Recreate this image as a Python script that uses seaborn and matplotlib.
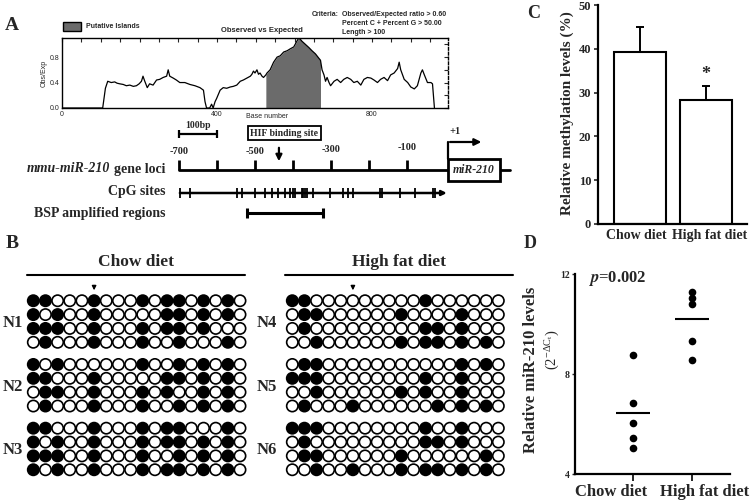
import numpy as np
import pandas as pd
import matplotlib
matplotlib.use("Agg")
import matplotlib.pyplot as plt
import matplotlib.transforms as mtrans
from matplotlib.patches import Rectangle
from matplotlib.lines import Line2D
import seaborn as sns

# ---------------- data ----------------
# A: CpG island plot (observed / expected ratio along the promoter)
base_pos = [0, 105, 112, 118, 127, 136, 142, 149, 158, 166,
            175, 184, 192, 199, 205, 209, 213, 220, 226, 235,
            244, 252, 261, 270, 274, 278, 287, 295, 304, 317,
            330, 343, 356, 365, 369, 373, 381, 386, 390, 395,
            399, 408, 416, 425, 434, 442, 451, 460, 468, 477,
            486, 490, 494, 498, 503, 507, 511, 516, 520, 526,
            529, 537, 546, 555, 563, 572, 581, 589, 598, 606,
            611, 615, 619, 628, 637, 645, 654, 663, 667, 671,
            676, 680, 684, 689, 693, 702, 710, 719, 727, 736,
            745, 753, 762, 771, 779, 788, 797, 805, 814, 822,
            831, 840, 848, 857, 866, 870, 874, 883, 892, 900,
            909, 917, 926, 930, 935, 943, 952, 956, 961]
obs_exp = [0.0, 0.0, 0.31, 0.42, 0.40, 0.41, 0.39, 0.38, 0.37, 0.35,
           0.36, 0.34, 0.35, 0.38, 0.42, 0.50, 0.43, 0.32, 0.38, 0.36,
           0.44, 0.45, 0.48, 0.50, 0.60, 0.50, 0.47, 0.44, 0.40, 0.40,
           0.37, 0.35, 0.32, 0.28, 0.10, 0.0, 0.0, 0.06, 0.0, 0.10,
           0.15, 0.28, 0.32, 0.31, 0.33, 0.34, 0.36, 0.42, 0.44, 0.47,
           0.50, 0.53, 0.58, 0.55, 0.60, 0.53, 0.55, 0.50, 0.48, 0.52,
           0.55, 0.60, 0.72, 0.80, 0.82, 0.88, 0.90, 0.93, 0.96, 1.05,
           1.10, 1.08, 1.05, 1.00, 0.95, 0.90, 0.85, 0.78, 0.75, 0.60,
           0.52, 0.42, 0.48, 0.40, 0.35, 0.42, 0.45, 0.40, 0.45, 0.48,
           0.45, 0.40, 0.42, 0.36, 0.45, 0.48, 0.47, 0.44, 0.40, 0.45,
           0.48, 0.43, 0.52, 0.55, 0.62, 0.72, 0.60, 0.45, 0.40, 0.33,
           0.30, 0.35, 0.55, 0.60, 0.52, 0.40, 0.40, 0.38, 0.0]
island_start, island_end = 526, 667
criteria = ["Observed/Expected ratio > 0.60",
            "Percent C + Percent G > 50.00",
            "Length > 100"]

# A: gene loci map (bp relative to miR-210 start)
loci_ticks = [-700, -600, -500, -400, -300, -200, -100]
loci_labels = [-700, -500, -300, -100]
cpg_sites = [-697, -671, -547, -535, -500, -474, -456, -439, -421, -408,
             -401, -395, -377, -373, -368, -364, -347, -303, -268, -254,
             -241, -171, -167, -118, -79, -31, -26]
bsp_region = (-521, -321)
hif_site = -437
mir_box = (8, 145)

# B: bisulfite sequencing (1 = methylated CpG)
chow_clones = {
    "N1": ["110001000101101010", "101001000001101010",
           "111001000101101000", "010001000100100010"],
    "N2": ["101000000100101010", "110001000001101010",
           "011001000101001010", "010001000100101010"],
    "N3": ["110001000101100010", "101001000101101010",
           "111001000100101010", "101001000101101010"],
}
hfd_clones = {
    "N4": ["110000000001000000", "011000000100001000",
           "010000000001101000", "001000000101101010"],
    "N5": ["011000000000001010", "111000000001001000",
           "001000000101001000", "010001000000101010"],
    "N6": ["111000000001001000", "010000000001101000",
           "011000000100000010", "001001000101101010"],
}
hif_cpg = 5

# C: methylation levels
diets = ["Chow diet", "High fat diet"]
meth_mean = [39.3, 28.3]
meth_sem = [5.7, 3.3]

# D: miR-210 expression
mir_chow = [8.76, 6.84, 6.04, 5.44, 5.04]
mir_hfd = [11.28, 11.04, 10.8, 9.32, 8.56]
p_value = "0.002"

# ---------------- layout helpers ----------------
W, H = 750, 503
SANS = ["Liberation Sans", "DejaVu Sans"]

sns.set_theme(style="white")
plt.rcParams["font.family"] = ["Liberation Serif", "DejaVu Serif"]
plt.rcParams["font.weight"] = "bold"
plt.rcParams["mathtext.fontset"] = "stix"

fig = plt.figure(figsize=(W / 100, H / 100), dpi=100)


def px_axes(x0, y0, x1, y1):
    return fig.add_axes([x0 / W, 1 - y1 / H, (x1 - x0) / W, (y1 - y0) / H])


def ftext(x, y, s, **kw):
    kw.setdefault("ha", "center")
    kw.setdefault("va", "center")
    return fig.text(x / W, 1 - y / H, s, **kw)


def fline(x0, x1, y0, y1, lw=1.5):
    fig.add_artist(Line2D([x0 / W, x1 / W], [1 - y0 / H, 1 - y1 / H],
                          transform=fig.transFigure, color="black", lw=lw))


# ---------------- panel A: island plot ----------------
ftext(12, 25, "A", fontsize=14)
ax = px_axes(62, 38, 448, 108)
curve = pd.DataFrame({"base": base_pos, "ratio": obs_exp})
sns.lineplot(data=curve, x="base", y="ratio", ax=ax, color="black",
             lw=0.9, estimator=None)
isl = curve[(curve["base"] >= island_start) & (curve["base"] <= island_end)]
ax.fill_between(isl["base"], 0, isl["ratio"], color="#6b6b6b", lw=0)
ax.set_xlim(0, 996)
ax.set_ylim(0, 1.1)
ax.set_xticks([0, 400, 800])
ax.set_xticks(np.arange(0, 1000, 50), minor=True)
ax.set_yticks([0, 0.4, 0.8])
ax.set_yticks([0.2, 0.6, 1.0], minor=True)
ax.set_yticklabels(["0.0", "0.4", "0.8"])
ax.tick_params(which="both", direction="in", top=True, right=True,
               length=3, width=0.8, labelsize=5, pad=2)
for lab in ax.get_xticklabels() + ax.get_yticklabels():
    lab.set_family(SANS)
    lab.set_weight("normal")
ax.set_xlabel("")
ax.set_ylabel("Obs/Exp", fontsize=5, family=SANS, weight="normal", labelpad=1)
for s in ax.spines.values():
    s.set_color("black")
    s.set_linewidth(1.0)
ax.spines["right"].set_linestyle((0, (2, 1.5)))
ftext(267, 117, "Base number", fontsize=5, family=SANS, weight="normal")

fig.add_artist(Rectangle((63 / W, 1 - 31 / H), 18 / W, 9 / H,
                         transform=fig.transFigure, fc="#6b6b6b",
                         ec="black", lw=1.0))
ftext(86, 27, "Putative Islands", fontsize=5, family=SANS, ha="left")
ftext(262, 30, "Observed vs Expected", fontsize=5.5, family=SANS)
ftext(312, 15, "Criteria:", fontsize=5, family=SANS, ha="left")
for i, line in enumerate(criteria):
    ftext(342, 15 + 8.5 * i, line, fontsize=5, family=SANS, ha="left")

# ---------------- panel A: gene map ----------------
gx = px_axes(0, 115, 530, 225)
gx.set_xlim(-700 - 179 / 0.38, -700 + 351 / 0.38)
gx.set_ylim(225, 115)
gx.axis("off")

# scale bar
gx.plot([-700, -600], [134, 134], color="black", lw=1.6)
gx.vlines([-700, -600], 130, 138, color="black", lw=1.6)
gx.text(-650, 126, "100bp", fontsize=7, ha="center", va="center")

# HIF binding site
gx.text(-423, 133, "HIF binding site", fontsize=7, ha="center", va="center",
        bbox=dict(boxstyle="square,pad=0.25", fc="white", ec="black", lw=1.3))
gx.annotate("", xy=(hif_site, 164), xytext=(hif_site, 145),
            arrowprops=dict(arrowstyle="-|>", color="black", lw=1.6,
                            mutation_scale=9))

# gene loci line
gx.plot([-700, 171], [170, 170], color="black", lw=2)
gx.vlines(loci_ticks, 160, 170, color="black", lw=2)
for p, yy in zip(loci_labels, [152, 152, 149, 147]):
    gx.text(p, yy, str(p), fontsize=7.5, ha="center", va="center")
gx.add_patch(Rectangle((mir_box[0], 159), mir_box[1] - mir_box[0], 22,
                       fc="white", ec="black", lw=2, zorder=3))
gx.text(sum(mir_box) / 2, 170, "miR-210", fontsize=8.5, style="italic",
        ha="center", va="center", zorder=4)
gx.plot([mir_box[0], mir_box[0]], [159, 142], color="black", lw=1.6)
gx.annotate("", xy=(mir_box[0] + 95, 142), xytext=(mir_box[0] - 2, 142),
            arrowprops=dict(arrowstyle="-|>", color="black", lw=1.6,
                            mutation_scale=10))
gx.text(mir_box[0] + 18, 132, "+1", fontsize=7.5, ha="center", va="center")

# CpG sites
gx.annotate("", xy=(12, 193), xytext=(-705, 193),
            arrowprops=dict(arrowstyle="-|>", color="black", lw=1.8,
                            mutation_scale=7))
gx.vlines(cpg_sites, 188, 198, color="black", lw=1.3)

# BSP region
gx.plot(bsp_region, [213, 213], color="black", lw=2.2)
gx.vlines(bsp_region, 208, 218, color="black", lw=2.2)

fig.canvas.draw()
rend = fig.canvas.get_renderer()
t_loci = ftext(165, 169, "gene loci", fontsize=10, ha="right")
bb = t_loci.get_window_extent(renderer=rend)
fig.text(bb.x0 / W - 3 / W, 1 - 169 / H, "mmu-miR-210", fontsize=10,
         style="italic", ha="right", va="center")
ftext(165, 192, "CpG sites", fontsize=10, ha="right")
ftext(165, 213, "BSP amplified regions", fontsize=10, ha="right")

# ---------------- panel B: lollipop grids ----------------
ftext(12, 244, "B", fontsize=14)


def clone_grid(clones, x_first, spacing, header, header_x, line_x):
    rows = []
    for g, (mouse, reads) in enumerate(clones.items()):
        for r, read in enumerate(reads):
            for c, v in enumerate(read):
                rows.append({"mouse": mouse, "col": c, "row": g * 4.6 + r,
                             "state": "M" if v == "1" else "U"})
    df = pd.DataFrame(rows)
    gax = px_axes(x_first - spacing / 2, 301 - 7.2,
                  x_first + 17.5 * spacing, 301 + 12.7 * 14.4 - 7.2)
    sns.scatterplot(data=df, x="col", y="row", hue="state",
                    palette={"M": "black", "U": "white"}, edgecolor="black",
                    linewidth=1.2, s=66, legend=False, ax=gax, clip_on=False)
    gax.set_xlim(-0.5, 17.5)
    gax.set_ylim(12.7, -0.5)
    gax.axis("off")
    blend = mtrans.blended_transform_factory(fig.transFigure, gax.transData)
    for g, mouse in enumerate(clones):
        gax.text(header_x / W, g * 4.6 + 1.6, mouse, transform=blend,
                 fontsize=12, ha="center", va="center")
    gax.annotate("", xy=(hif_cpg, -0.55), xytext=(hif_cpg, -1.3),
                 arrowprops=dict(arrowstyle="-|>", color="black", lw=1.0,
                                 mutation_scale=6), annotation_clip=False)
    ftext(sum(line_x) / 2, 262, header, fontsize=12.5)
    fline(line_x[0], line_x[1], 275, 275, lw=1.5)


clone_grid(chow_clones, 33.3, 12.16, "Chow diet", 13, (27, 245))
clone_grid(hfd_clones, 292.3, 12.12, "High fat diet", 267, (285, 513))

# ---------------- panel C: methylation bars ----------------
ftext(534, 14, "C", fontsize=13)
cx = px_axes(598, 5, 747, 224)
meth = pd.DataFrame({"diet": diets, "level": meth_mean})
sns.barplot(data=meth, x="diet", y="level", ax=cx, color="white",
            edgecolor="black", linewidth=1.5, width=0.79, errorbar=None,
            saturation=1)
cx.errorbar([0, 1], meth_mean, yerr=[[0, 0], meth_sem], fmt="none",
            ecolor="black", elinewidth=1.4, capsize=3, capthick=1.4)
cx.text(1, meth_mean[1] + meth_sem[1] + 2.5, "*", fontsize=13,
        ha="center", va="center")
cx.set_xlim(-0.636, 1.62)
cx.set_ylim(0, 50)
cx.set_yticks(range(0, 51, 10))
sns.despine(ax=cx)
for s in ["left", "bottom"]:
    cx.spines[s].set_color("black")
    cx.spines[s].set_linewidth(1.6)
cx.tick_params(axis="y", direction="out", length=3, width=1.2,
               labelsize=9, pad=2, left=True)
cx.tick_params(axis="x", length=0)
cx.set_xticklabels([])
cx.set_xlabel("")
cx.set_ylabel("")
for lab, xc in zip(diets, [636, 710]):
    ftext(xc, 235, lab, fontsize=10)
ftext(567, 113, "Relative methylation levels (%)", fontsize=11, rotation=90)

# ---------------- panel D: miR-210 dots ----------------
ftext(530, 243, "D", fontsize=13)
dx = px_axes(575, 274, 730, 474)
mir = pd.DataFrame({"diet": [diets[0]] * len(mir_chow) + [diets[1]] * len(mir_hfd),
                    "level": mir_chow + mir_hfd})
sns.stripplot(data=mir, x="diet", y="level", order=diets, jitter=False,
              color="black", size=5.5, ax=dx)
means = mir.groupby("diet")["level"].mean().reindex(diets)
dx.hlines(means.values, np.arange(2) - 0.29, np.arange(2) + 0.29,
          color="black", lw=1.5)
dx.set_xlim(-0.983, 1.644)
dx.set_ylim(4, 12)
dx.set_yticks([4, 8, 12])
sns.despine(ax=dx)
for s in ["left", "bottom"]:
    dx.spines[s].set_color("black")
    dx.spines[s].set_linewidth(1.6)
dx.tick_params(axis="y", direction="out", length=2, width=1.0,
               labelsize=7, pad=2, left=True)
dx.tick_params(axis="x", direction="out", length=5, width=1.4, bottom=True)
dx.set_xticklabels([])
dx.set_xlabel("")
dx.set_ylabel("")
for lab, xc in zip(diets, [611, 705]):
    ftext(xc, 492, lab, fontsize=12)
ftext(588, 278, r"$\mathit{p}$=" + p_value, fontsize=12, ha="left")
ftext(531, 370, "Relative miR-210 levels", fontsize=12, rotation=90)
ftext(552, 350, r"(2$^{\mathregular{-\Delta C_t}}$)", fontsize=10.5,
      rotation=90, weight="normal")

fig.savefig("out.png", dpi=100)
